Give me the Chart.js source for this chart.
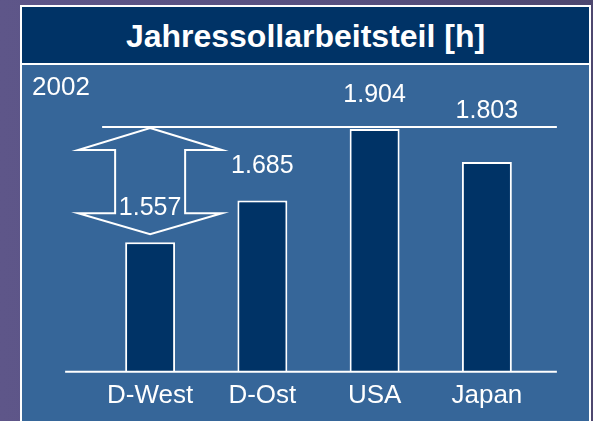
<!DOCTYPE html>
<html>
<head>
<meta charset="utf-8">
<script src="https://cdn.jsdelivr.net/npm/chart.js@4/dist/chart.umd.min.js"></script>
<style>
  html, body { margin: 0; padding: 0; }
  body {
    width: 593px; height: 421px; overflow: hidden; position: relative;
    background: linear-gradient(90deg, #5e5689 0%, #57507f 60%, #4d476f 100%);
    font-family: "Liberation Sans", Arial, sans-serif;
  }
  #panel {
    position: absolute; left: 20px; top: 5px; width: 571px; height: 440px;
    box-sizing: border-box; border: 2px solid #fff; background: #366699;
  }
  #titel {
    height: 56px; line-height: 58px; background: #003366; border-bottom: 2px solid #fff;
    color: #fff; font-weight: bold; font-size: 32px; text-align: center;
  }
  #jahr {
    position: absolute; left: 10px; top: 66px; color: #fff; font-size: 26px; line-height: 26px;
  }
  #wrap { position: absolute; left: 0; top: 58px; width: 567px; height: 356px; }
</style>
</head>
<body>
<div id="panel">
  <div id="titel">Jahressollarbeitsteil [h]</div>
  <div id="wrap"><canvas id="chart" width="567" height="356"></canvas></div>
  <div id="jahr">2002</div>
</div>
<script>
// Daten
const laender = ['D-West', 'D-Ost', 'USA', 'Japan'];
const stunden = [1557, 1685, 1904, 1803];
const achseMin = 1160;
const achseMax = 2100;

// 1557 -> "1.557"
function formatStunden(v) {
  const t = Math.floor(v / 1000);
  const r = String(v % 1000).padStart(3, '0');
  return t + '.' + r;
}

// Referenzlinie, Doppelpfeil, Grundlinie und Werte
const annotationen = {
  id: 'annotationen',
  afterDatasetsDraw(chart) {
    const ctx = chart.ctx;
    const bars = chart.getDatasetMeta(0).data;
    const area = chart.chartArea;
    const maxIdx = stunden.indexOf(Math.max(...stunden));
    const refY = bars[maxIdx].y - 2;

    ctx.save();
    ctx.strokeStyle = '#ffffff';
    ctx.lineWidth = 2;

    // Grundlinie
    ctx.beginPath();
    ctx.moveTo(bars[0].x - 85, area.bottom);
    ctx.lineTo(bars[bars.length - 1].x + 70, area.bottom);
    ctx.stroke();

    // Referenzlinie auf Höhe des Maximums
    ctx.beginPath();
    ctx.moveTo(bars[0].x - 48, refY);
    ctx.lineTo(bars[bars.length - 1].x + 70, refY);
    ctx.stroke();

    // Doppelpfeil über D-West
    const cx = bars[0].x;
    const top = refY + 1;
    const bottom = bars[0].y - 8;
    const wing = 72, shaft = 35, head = 22;
    ctx.lineJoin = 'miter';
    ctx.beginPath();
    ctx.moveTo(cx, top);
    ctx.lineTo(cx + wing, top + head);
    ctx.lineTo(cx + shaft, top + head);
    ctx.lineTo(cx + shaft, bottom - head + 1);
    ctx.lineTo(cx + wing, bottom - head + 1);
    ctx.lineTo(cx, bottom);
    ctx.lineTo(cx - wing, bottom - head + 1);
    ctx.lineTo(cx - shaft, bottom - head + 1);
    ctx.lineTo(cx - shaft, top + head);
    ctx.lineTo(cx - wing, top + head);
    ctx.closePath();
    ctx.stroke();

    // Werte über den Balken (über die Linie geschoben, wenn sie sie treffen)
    ctx.fillStyle = '#ffffff';
    ctx.font = '25px "Liberation Sans", Arial, sans-serif';
    ctx.textAlign = 'center';
    ctx.textBaseline = 'middle';
    bars.forEach((bar, i) => {
      let y = bar.y - 34;
      if (Math.abs(y - refY) < 16) y = refY - 16;
      ctx.fillText(formatStunden(stunden[i]), bar.x, y);
    });
    ctx.restore();
  }
};

new Chart(document.getElementById('chart'), {
  type: 'bar',
  data: {
    labels: laender,
    datasets: [{
      data: stunden,
      backgroundColor: '#003366',
      borderColor: '#ffffff',
      borderWidth: 2,
      borderSkipped: 'bottom',
      categoryPercentage: 1,
      barPercentage: 0.445
    }]
  },
  options: {
    responsive: false,
    animation: false,
    maintainAspectRatio: false,
    layout: { padding: { left: 72, right: 46, top: 0, bottom: 2 } },
    plugins: { legend: { display: false }, tooltip: { enabled: false } },
    scales: {
      x: {
        grid: { display: false, drawTicks: false },
        border: { display: false },
        ticks: {
          color: '#ffffff',
          padding: 8,
          maxRotation: 0,
          autoSkip: false,
          font: { family: '"Liberation Sans", Arial, sans-serif', size: 26 }
        }
      },
      y: {
        display: false,
        min: achseMin,
        max: achseMax
      }
    }
  },
  plugins: [annotationen]
});
</script>
</body>
</html>
